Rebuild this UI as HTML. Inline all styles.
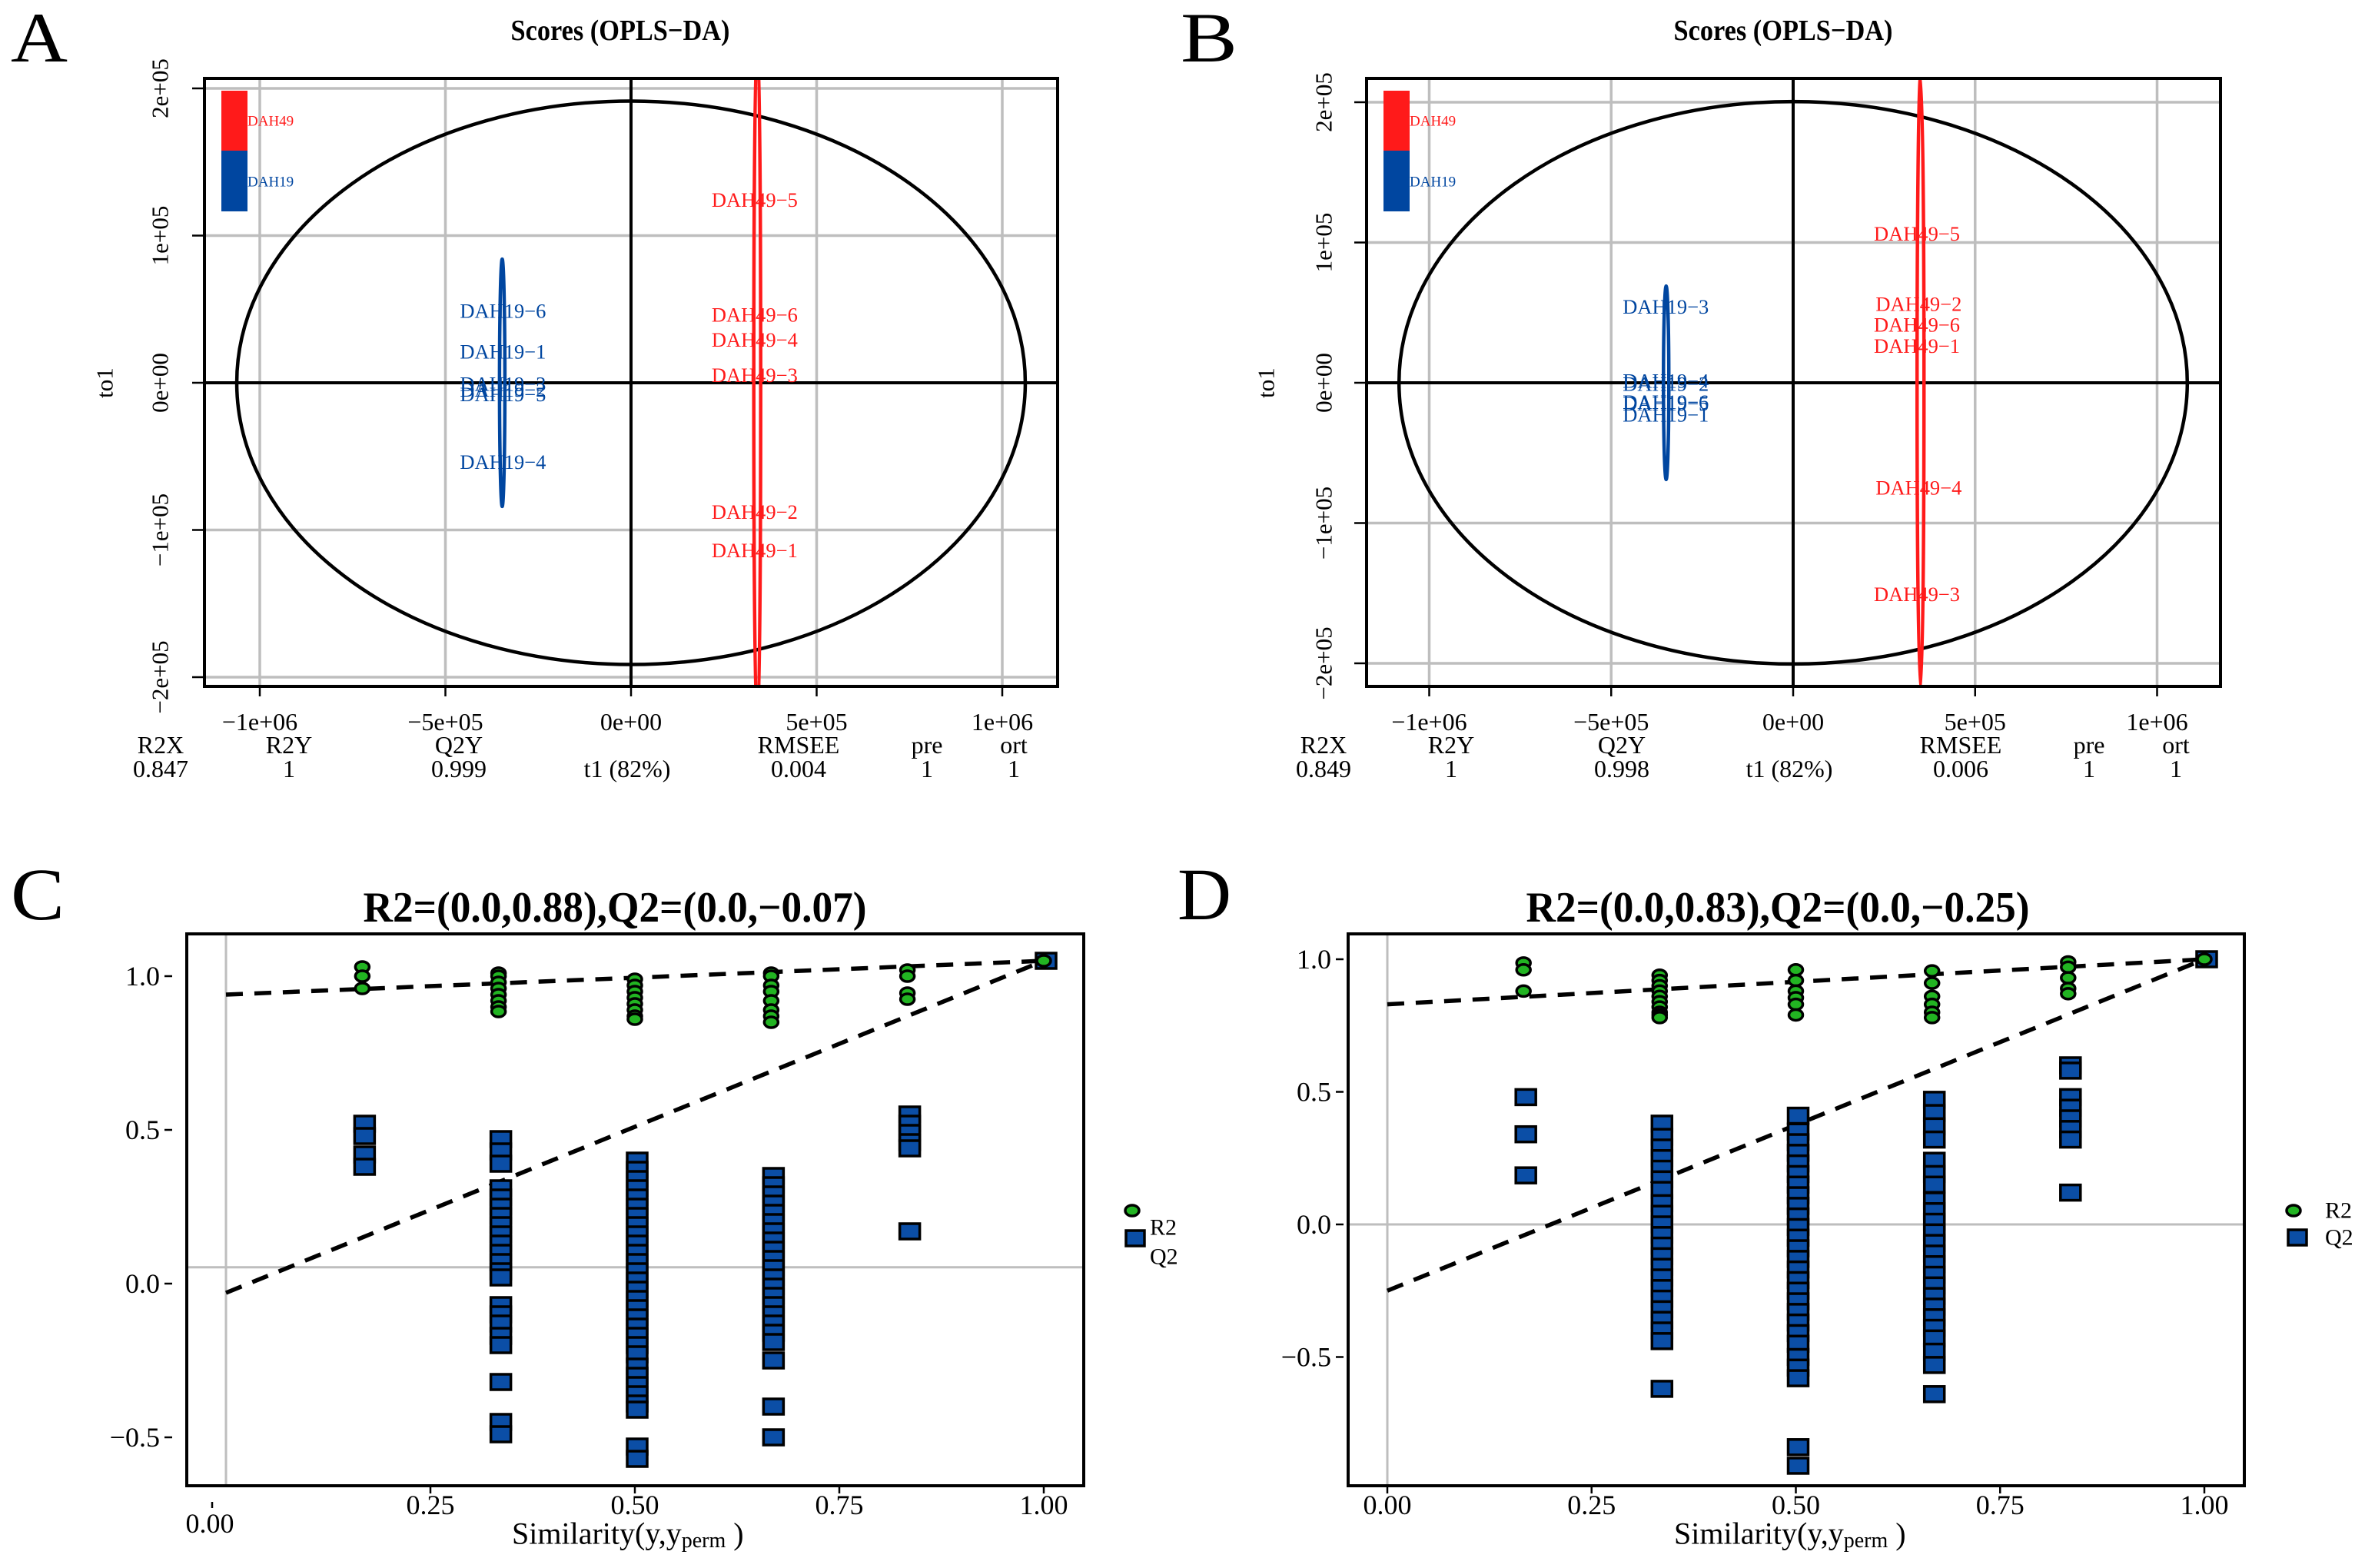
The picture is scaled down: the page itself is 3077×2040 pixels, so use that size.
<!DOCTYPE html>
<html><head><meta charset="utf-8"><style>
html,body{margin:0;padding:0;background:#fff;}
svg{display:block;font-family:"Liberation Serif",serif;}
</style></head><body>
<svg id="fig" xmlns="http://www.w3.org/2000/svg" width="3077" height="2040" viewBox="0 0 3077 2040">
<rect x="0" y="0" width="3077" height="2040" fill="#fff"/>
</svg>
<script>
// ---------- data ----------
const xTickVals = [-1e6, -5e5, 0, 5e5, 1e6];
const xTickLabels = ["\u22121e+06", "\u22125e+05", "0e+00", "5e+05", "1e+06"];
const yTickVals = [-2e5, -1e5, 0, 1e5, 2e5];
const yTickLabels = ["\u22122e+05", "\u22121e+05", "0e+00", "1e+05", "2e+05"];

const aBlueNames = ["DAH19\u22126","DAH19\u22121","DAH19\u22123","DAH19\u22122","DAH19\u22125","DAH19\u22124"];
const aBlueT1 = [-3.45e5,-3.45e5,-3.45e5,-3.45e5,-3.45e5,-3.45e5];
const aBlueTo1 = [0.486e5,0.21e5,-0.01e5,-0.05e5,-0.08e5,-0.54e5];
const aRedNames = ["DAH49\u22125","DAH49\u22126","DAH49\u22124","DAH49\u22123","DAH49\u22122","DAH49\u22121"];
const aRedT1 = [3.33e5,3.33e5,3.33e5,3.33e5,3.33e5,3.33e5];
const aRedTo1 = [1.24e5,0.46e5,0.29e5,0.05e5,-0.88e5,-1.14e5];
const aStats = ["0.847","1","0.999","t1 (82%)","0.004","1","1"];

const bBlueNames = ["DAH19\u22123","DAH19\u22124","DAH19\u22122","DAH19\u22126","DAH19\u22125","DAH19\u22121"];
const bBlueT1 = [-3.5e5,-3.5e5,-3.5e5,-3.5e5,-3.5e5,-3.5e5];
const bBlueTo1 = [0.54e5,0.01e5,-0.01e5,-0.14e5,-0.15e5,-0.23e5];
const bRedNames = ["DAH49\u22125","DAH49\u22122","DAH49\u22126","DAH49\u22121","DAH49\u22124","DAH49\u22123"];
const bRedT1 = [3.4e5,3.45e5,3.4e5,3.4e5,3.45e5,3.4e5];
const bRedTo1 = [1.06e5,0.56e5,0.41e5,0.26e5,-0.75e5,-1.51e5];
const bStats = ["0.849","1","0.998","t1 (82%)","0.006","1","1"];

const statHeaders = ["R2X","R2Y","Q2Y","","RMSEE","pre","ort"];

const permXTicks = [0, 0.25, 0.5, 0.75, 1.0];
const permXLabels = ["0.00","0.25","0.50","0.75","1.00"];
const permYTicks = [-0.5, 0, 0.5, 1.0];
const permYLabels = ["\u22120.5","0.0","0.5","1.0"];
const simGroups = [0.1667, 0.3333, 0.5, 0.6667, 0.8333, 1.0];

const cR2 = [
 [1.03,1.0,0.96],
 [1.01,1.0,0.98,0.96,0.94,0.92,0.9,0.885],
 [0.99,0.97,0.95,0.93,0.91,0.89,0.87,0.86],
 [1.01,1.0,0.97,0.95,0.92,0.89,0.87,0.85],
 [1.02,1.0,0.945,0.925],
 [1.05]];
const cQ2 = [
 [0.52,0.48,0.42,0.38],
 [0.47,0.43,0.39,0.31,0.28,0.25,0.22,0.19,0.16,0.13,0.1,0.07,0.04,0.02,-0.07,-0.1,-0.13,-0.17,-0.2,-0.32,-0.45,-0.49],
 [0.4,0.37,0.34,0.31,0.28,0.25,0.22,0.19,0.16,0.13,0.1,0.07,0.04,0.01,-0.02,-0.05,-0.08,-0.11,-0.14,-0.17,-0.2,-0.23,-0.27,-0.3,-0.33,-0.36,-0.39,-0.41,-0.53,-0.57],
 [0.35,0.32,0.29,0.26,0.23,0.2,0.17,0.14,0.11,0.08,0.05,0.02,-0.01,-0.04,-0.07,-0.1,-0.13,-0.16,-0.19,-0.25,-0.4,-0.5],
 [0.55,0.52,0.49,0.46,0.44,0.17],
 [1.05]];
const cR2Line = [0.94, 1.05];
const cQ2Line = [-0.03, 1.05];
const cRefY = 0.053;
const cTitle = "R2=(0.0,0.88),Q2=(0.0,\u22120.07)";

const dR2 = [
 [0.986,0.96,0.88],
 [0.94,0.92,0.9,0.88,0.86,0.84,0.82,0.8,0.79,0.78],
 [0.96,0.92,0.88,0.855,0.83,0.79],
 [0.956,0.91,0.86,0.83,0.8,0.78],
 [0.99,0.97,0.93,0.89,0.87],
 [1.0]];
const dQ2 = [
 [0.48,0.34,0.185],
 [0.38,0.33,0.29,0.25,0.21,0.17,0.13,0.08,0.04,0.0,-0.04,-0.08,-0.12,-0.16,-0.2,-0.24,-0.28,-0.32,-0.36,-0.4,-0.44,-0.62],
 [0.41,0.35,0.31,0.27,0.23,0.19,0.15,0.11,0.07,0.03,-0.01,-0.05,-0.09,-0.13,-0.17,-0.21,-0.25,-0.29,-0.33,-0.37,-0.41,-0.45,-0.5,-0.54,-0.58,-0.84,-0.91],
 [0.47,0.42,0.37,0.32,0.24,0.19,0.15,0.09,0.05,0.01,-0.03,-0.07,-0.11,-0.15,-0.19,-0.23,-0.27,-0.31,-0.35,-0.39,-0.43,-0.48,-0.53,-0.64],
 [0.6,0.58,0.48,0.44,0.4,0.36,0.32,0.12],
 [1.0]];
const dR2Line = [0.83, 1.0];
const dQ2Line = [-0.25, 1.0];
const dRefY = 0;
const dTitle = "R2=(0.0,0.83),Q2=(0.0,\u22120.25)";

// ---------- helpers ----------
const NS = "http://www.w3.org/2000/svg";
const svg = document.getElementById("fig");
function el(tag, attrs, parent) {
  const e = document.createElementNS(NS, tag);
  for (const k in attrs) e.setAttribute(k, attrs[k]);
  (parent || svg).appendChild(e);
  return e;
}
function txt(s, attrs, parent) {
  const t = el("text", attrs, parent);
  t.textContent = s;
  return t;
}
let clipId = 0;

// ---------- scores panel ----------
function scoresPanel(P) {
  const g = el("g", {});
  
  
  const sx = v => P.x0 + v * P.kx;
  const sy = v => P.y0 - v * P.ky;
  const L = P.box[0], R = P.box[1], T = P.box[2], B = P.box[3];
  const letter = txt(P.letter, {x: P.letterX, y: 80, "font-size": 92, textLength: 74, lengthAdjust: "spacingAndGlyphs"}, g);
  
  
  const title = txt("Scores (OPLS\u2212DA)", {x: P.titleX, y: 40, "font-size": 38, "font-weight": "bold", "text-anchor": "middle", "dominant-baseline": "central", textLength: 285, lengthAdjust: "spacingAndGlyphs"}, g);
  
  
  const id = "clip" + (clipId++);
  const cp = el("clipPath", {id: id}, g);
  el("rect", {x: L, y: T, width: R - L, height: B - T}, cp);
  const plot = el("g", {"clip-path": "url(#" + id + ")"}, g);
  
  
  xTickVals.forEach((v, i) => {
    const gl = el("line", {x1: sx(v), x2: sx(v), y1: T, y2: B, stroke: "#bebebe", "stroke-width": 3.5}, plot);
    
    
    const tk = el("line", {x1: sx(v), x2: sx(v), y1: B, y2: B + 13, stroke: "#000", "stroke-width": 2.5}, g);
    
    
    const lb = txt(xTickLabels[i], {x: sx(v), y: 939, "font-size": 32, "text-anchor": "middle", "dominant-baseline": "central"}, g);
    
    
  });
  yTickVals.forEach((v, i) => {
    const gl = el("line", {x1: L, x2: R, y1: sy(v), y2: sy(v), stroke: "#bebebe", "stroke-width": 3.5}, plot);
    
    
    const tk = el("line", {x1: L - 16, x2: L, y1: sy(v), y2: sy(v), stroke: "#000", "stroke-width": 2.5}, g);
    
    
    const lb = txt(yTickLabels[i], {x: 0, y: 0, "font-size": 31, "text-anchor": "middle", "dominant-baseline": "central", transform: "translate(" + P.yLabX + "," + sy(v) + ") rotate(-90)"}, g);
    
    
  });
  const yt = txt("to1", {x: 0, y: 0, "font-size": 31, "text-anchor": "middle", "dominant-baseline": "central", transform: "translate(" + P.yTitleX + "," + P.y0 + ") rotate(-90)"}, g);
  
  
  const ax0 = el("line", {x1: sx(0), x2: sx(0), y1: T, y2: B, stroke: "#000", "stroke-width": 4}, plot);
  
  
  const ay0 = el("line", {x1: L, x2: R, y1: sy(0), y2: sy(0), stroke: "#000", "stroke-width": 4}, plot);
  
  
  const he = el("ellipse", {cx: sx(0), cy: sy(0), rx: P.hotRx * P.kx, ry: P.hotRy * P.ky, fill: "none", stroke: "#000", "stroke-width": 4.5}, plot);
  
  
  const be = el("ellipse", {cx: sx(P.blueE[0]), cy: sy(0), rx: 3.5, ry: P.blueE[1] * P.ky, fill: "none", stroke: "#0046a0", "stroke-width": 4.5}, plot);
  
  
  const re = el("ellipse", {cx: sx(P.redE[0]), cy: sy(0), rx: 4.5, ry: P.redE[1] * P.ky, fill: "none", stroke: "#ff1a1a", "stroke-width": 4.5}, plot);
  
  
  P.blueNames.forEach((n, i) => {
    const t = txt(n, {x: sx(P.blueT1[i]), y: sy(P.blueTo1[i]), "font-size": 26, fill: "#0046a0", "text-anchor": "middle", "dominant-baseline": "central", textLength: 112, lengthAdjust: "spacingAndGlyphs"}, plot);
    
    
  });
  P.redNames.forEach((n, i) => {
    const t = txt(n, {x: sx(P.redT1[i]), y: sy(P.redTo1[i]), "font-size": 26, fill: "#ff1a1a", "text-anchor": "middle", "dominant-baseline": "central", textLength: 112, lengthAdjust: "spacingAndGlyphs"}, plot);
    
    
  });
  const box = el("rect", {x: L, y: T, width: R - L, height: B - T, fill: "none", stroke: "#000", "stroke-width": 4}, g);
  
  
  const lg = el("g", {}, g);
  
  
  const r1 = el("rect", {x: P.legX, y: 118, width: 34, height: 79, fill: "#ff1a1a"}, lg);
  
  
  const r2 = el("rect", {x: P.legX, y: 196, width: 34, height: 79, fill: "#0046a0"}, lg);
  
  
  const l1 = txt("DAH49", {x: P.legX + 34, y: 158, "font-size": 19, fill: "#ff1a1a", "dominant-baseline": "central"}, lg);
  
  
  const l2 = txt("DAH19", {x: P.legX + 34, y: 237, "font-size": 19, fill: "#0046a0", "dominant-baseline": "central"}, lg);
  
  
  statHeaders.forEach((h, i) => {
    if (h) {
      const t = txt(h, {x: P.statX[i], y: 969, "font-size": 32, "text-anchor": "middle", "dominant-baseline": "central"}, g);
      
      
    }
    const v = txt(P.stats[i], {x: P.statX[i], y: 1000, "font-size": 32, "text-anchor": "middle", "dominant-baseline": "central"}, g);
    
    
  });
}

scoresPanel({name: "panel-a-scores", letter: "A", letterX: 14, titleX: 807,
  x0: 821, kx: 483e-6, y0: 498, ky: 191.5e-5, box: [266, 1376, 102, 893],
  yLabX: 208, yTitleX: 136, hotRx: 1.062e6, hotRy: 1.914e5,
  blueE: [-3.47e5, 0.84e5], redE: [3.4e5, 2.4e5],
  blueNames: aBlueNames, blueT1: aBlueT1, blueTo1: aBlueTo1,
  redNames: aRedNames, redT1: aRedT1, redTo1: aRedTo1,
  legX: 288, stats: aStats, statX: [209, 376, 597, 816, 1039, 1206, 1319]});

scoresPanel({name: "panel-b-scores", letter: "B", letterX: 1536, titleX: 2320,
  x0: 2333, kx: 473.5e-6, y0: 498, ky: 182.5e-5, box: [1778, 2889, 102, 893],
  yLabX: 1722, yTitleX: 1647, hotRx: 1.083e6, hotRy: 2.005e5,
  blueE: [-3.49e5, 0.69e5], redE: [3.5e5, 2.18e5],
  blueNames: bBlueNames, blueT1: bBlueT1, blueTo1: bBlueTo1,
  redNames: bRedNames, redT1: bRedT1, redTo1: bRedTo1,
  legX: 1800, stats: bStats, statX: [1722, 1888, 2110, 2328, 2551, 2718, 2831]});

// ---------- permutation panel ----------
function permPanel(P) {
  const g = el("g", {});
  
  
  const sx = v => P.x0 + v * P.kx;
  const sy = v => P.y0 - v * P.ky;
  const L = P.box[0], R = P.box[1], T = P.box[2], B = P.box[3];
  const letter = txt(P.letter, {x: P.letterX, y: 1196, "font-size": 96, textLength: 70, lengthAdjust: "spacingAndGlyphs"}, g);
  
  
  const title = txt(P.title, {x: P.titleX, y: 1181, "font-size": 56, "font-weight": "bold", "text-anchor": "middle", "dominant-baseline": "central", textLength: 655, lengthAdjust: "spacingAndGlyphs"}, g);
  
  
  const id = "clip" + (clipId++);
  const cp = el("clipPath", {id: id}, g);
  el("rect", {x: L, y: T, width: R - L, height: B - T}, cp);
  const plot = el("g", {"clip-path": "url(#" + id + ")"}, g);
  
  
  const vr = el("line", {x1: sx(0), x2: sx(0), y1: T, y2: B, stroke: "#bebebe", "stroke-width": 3}, plot);
  
  
  const hr = el("line", {x1: L, x2: R, y1: sy(P.refY), y2: sy(P.refY), stroke: "#bebebe", "stroke-width": 3}, plot);
  
  
  const d1 = el("line", {x1: sx(0), y1: sy(P.r2Line[0]), x2: sx(1), y2: sy(P.r2Line[1]), stroke: "#000", "stroke-width": 5.5, "stroke-dasharray": "22 15"}, plot);
  
  
  const d2 = el("line", {x1: sx(0), y1: sy(P.q2Line[0]), x2: sx(1), y2: sy(P.q2Line[1]), stroke: "#000", "stroke-width": 5.5, "stroke-dasharray": "22 15"}, plot);
  
  
  simGroups.forEach((s, gi) => {
    P.q2[gi].forEach(v => {
      const r = el("rect", {x: sx(s) - 13 + 3, y: sy(v) - 10, width: 26, height: 20, fill: "#0b4ea6", stroke: "#000", "stroke-width": 3.5}, plot);
      
      
    });
  });
  simGroups.forEach((s, gi) => {
    P.r2[gi].forEach(v => {
      const c = el("ellipse", {cx: sx(s), cy: sy(v), rx: 9, ry: 7, fill: "#22b422", stroke: "#000", "stroke-width": 3.5}, plot);
      
      
    });
  });
  const box = el("rect", {x: L, y: T, width: R - L, height: B - T, fill: "none", stroke: "#000", "stroke-width": 4}, g);
  
  
  permXTicks.forEach((v, i) => {
    const low = P.zeroLow && i === 0;
    const tk = el("line", {x1: sx(v) - (low ? 18 : 0), x2: sx(v) - (low ? 18 : 0), y1: low ? 1954 : B, y2: low ? 1962 : B + 10, stroke: "#000", "stroke-width": 2.5}, g);
    
    
    const lb = txt(permXLabels[i], {x: sx(v) - (low ? 21 : 0), y: low ? 1982 : 1958, "font-size": 36, "text-anchor": "middle", "dominant-baseline": "central"}, g);
    
    
  });
  permYTicks.forEach((v, i) => {
    const tk = el("line", {x1: P.yTickX, x2: P.yTickX + 10, y1: sy(v), y2: sy(v), stroke: "#000", "stroke-width": 2.5}, g);
    
    
    const lb = txt(permYLabels[i], {x: P.yTickX - 6, y: sy(v), "font-size": 36, "text-anchor": "end", "dominant-baseline": "central"}, g);
    
    
  });
  const xt = txt("Similarity(y,y", {x: P.xTitleX, y: 1995, "font-size": 40, "dominant-baseline": "central"}, g);
  
  
  const sub = el("tspan", {"font-size": 28, dy: 9}, xt);
  sub.textContent = "perm";
  const cl = el("tspan", {"font-size": 40, dy: -9}, xt);
  cl.textContent = " )";
  const lg = el("g", {}, g);
  
  
  const lc = el("ellipse", {cx: P.leg.cx, cy: P.leg.cy, rx: 9, ry: 7, fill: "#22b422", stroke: "#000", "stroke-width": 3.5}, lg);
  
  
  const ls = el("rect", {x: P.leg.sx - 12, y: P.leg.sy - 10, width: 24, height: 20, fill: "#0b4ea6", stroke: "#000", "stroke-width": 3.5}, lg);
  
  
  const lt1 = txt("R2", {x: P.leg.tx, y: P.leg.t1y, "font-size": 30, "dominant-baseline": "central"}, lg);
  
  
  const lt2 = txt("Q2", {x: P.leg.tx, y: P.leg.t2y, "font-size": 30, "dominant-baseline": "central"}, lg);
  
  
}

permPanel({name: "panel-c-permutation", letter: "C", letterX: 14, title: cTitle, titleX: 800,
  x0: 294, kx: 1064, y0: 1670, ky: 400, box: [243, 1410, 1215, 1933], zeroLow: true,
  refY: cRefY, r2Line: cR2Line, q2Line: cQ2Line, r2: cR2, q2: cQ2,
  yTickX: 214, xTitleX: 666,
  leg: {cx: 1473, cy: 1575, sx: 1477, sy: 1611, tx: 1496, t1y: 1597, t2y: 1635}});

permPanel({name: "panel-d-permutation", letter: "D", letterX: 1532, title: dTitle, titleX: 2313,
  x0: 1805, kx: 1063, y0: 1593, ky: 345, box: [1754, 2920, 1215, 1933], zeroLow: false,
  refY: dRefY, r2Line: dR2Line, q2Line: dQ2Line, r2: dR2, q2: dQ2,
  yTickX: 1738, xTitleX: 2178,
  leg: {cx: 2984, cy: 1575, sx: 2989, sy: 1610, tx: 3025, t1y: 1575, t2y: 1610}});
</script>
</body></html>
